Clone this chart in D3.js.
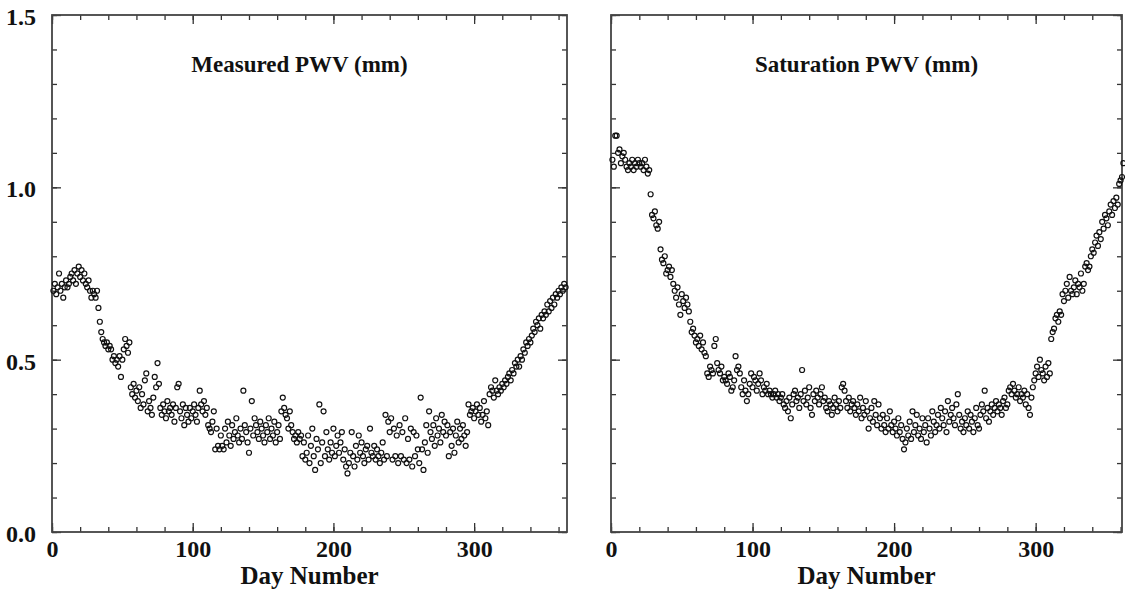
<!DOCTYPE html>
<html>
<head>
<meta charset="utf-8">
<script src="https://cdn.jsdelivr.net/npm/d3@7"></script>
<style>
  body { margin: 0; background: #fff; }
  svg text { font-family: "Liberation Serif", "Times New Roman", serif; font-weight: bold; fill: #111; }
</style>
</head>
<body>
<div id="chart"></div>
<script>
// Measured PWV (mm), one value per day starting at day 1
const measuredPWV = [
  0.70, 0.72, 0.69, 0.71, 0.75, 0.70, 0.72, 0.68, 0.71, 0.73,
  0.71, 0.72, 0.74, 0.75, 0.73, 0.76, 0.72, 0.75, 0.77, 0.74,
  0.76, 0.73, 0.75, 0.72, 0.71, 0.73, 0.70, 0.68, 0.70, 0.69,
  0.68, 0.70, 0.65, 0.61, 0.58, 0.56, 0.55, 0.54, 0.55, 0.53,
  0.54, 0.53, 0.50, 0.51, 0.49, 0.50, 0.48, 0.51, 0.45, 0.50,
  0.53, 0.56, 0.54, 0.52, 0.55, 0.42, 0.40, 0.43, 0.39, 0.41,
  0.38, 0.42, 0.36, 0.40, 0.37, 0.44, 0.46, 0.35, 0.38, 0.36,
  0.34, 0.39, 0.45, 0.42, 0.49, 0.43, 0.36, 0.34, 0.37, 0.35,
  0.33, 0.38, 0.35, 0.36, 0.34, 0.37, 0.32, 0.36, 0.42, 0.43,
  0.35, 0.33, 0.37, 0.31, 0.36, 0.34, 0.32, 0.36, 0.33, 0.35,
  0.37, 0.34, 0.32, 0.36, 0.41, 0.37, 0.35, 0.38, 0.34, 0.36,
  0.31, 0.30, 0.29, 0.32, 0.35, 0.24, 0.30, 0.25, 0.24, 0.28,
  0.25, 0.24, 0.30, 0.26, 0.32, 0.28, 0.25, 0.31, 0.27, 0.29,
  0.33, 0.28, 0.26, 0.30, 0.27, 0.41, 0.31, 0.29, 0.26, 0.23,
  0.30, 0.38, 0.28, 0.33, 0.31, 0.29, 0.27, 0.32, 0.30, 0.28,
  0.26, 0.31, 0.29, 0.33, 0.27, 0.30, 0.28, 0.32, 0.26, 0.29,
  0.31, 0.27, 0.35, 0.39, 0.36, 0.34, 0.33, 0.30, 0.35, 0.31,
  0.29, 0.27, 0.28, 0.26, 0.29, 0.27, 0.28, 0.22, 0.26, 0.21,
  0.23, 0.28, 0.20, 0.25, 0.30, 0.22, 0.18, 0.27, 0.24, 0.37,
  0.20, 0.26, 0.35, 0.22, 0.29, 0.24, 0.21, 0.26, 0.23, 0.30,
  0.22, 0.25, 0.28, 0.23, 0.26, 0.29, 0.21, 0.24, 0.19, 0.17,
  0.20, 0.23, 0.29, 0.22, 0.19, 0.25, 0.21, 0.28, 0.23, 0.26,
  0.22, 0.20, 0.24, 0.25, 0.21, 0.30, 0.23, 0.22, 0.25, 0.21,
  0.24, 0.22, 0.20, 0.23, 0.26, 0.21, 0.34, 0.22, 0.32, 0.29,
  0.33, 0.21, 0.30, 0.22, 0.28, 0.20, 0.31, 0.22, 0.29, 0.21,
  0.33, 0.20, 0.27, 0.21, 0.30, 0.19, 0.29, 0.22, 0.28, 0.24,
  0.20, 0.39, 0.24, 0.18, 0.26, 0.31, 0.23, 0.35, 0.29, 0.27,
  0.31, 0.25, 0.33, 0.28, 0.30, 0.26, 0.34, 0.29, 0.32, 0.28,
  0.31, 0.22, 0.29, 0.25, 0.30, 0.23, 0.28, 0.32, 0.26, 0.30,
  0.27, 0.31, 0.28, 0.25, 0.29, 0.37, 0.34, 0.35, 0.36, 0.33,
  0.35, 0.37, 0.34, 0.36, 0.32, 0.34, 0.38, 0.33, 0.35, 0.31,
  0.40, 0.42, 0.41, 0.39, 0.44, 0.41, 0.40, 0.42, 0.41, 0.43,
  0.42, 0.44, 0.43, 0.45, 0.46, 0.44, 0.47, 0.46, 0.49, 0.48,
  0.50, 0.48, 0.51, 0.50, 0.53, 0.52, 0.55, 0.54, 0.56, 0.55,
  0.57, 0.59, 0.58, 0.61, 0.60, 0.62, 0.59, 0.63, 0.62, 0.64,
  0.63, 0.66, 0.64, 0.67, 0.65, 0.68, 0.66, 0.69, 0.68, 0.70,
  0.69, 0.71, 0.70, 0.72, 0.71
];

// Saturation PWV (mm), one value per day starting at day 1
const saturationPWV = [
  1.08, 1.06, 1.15, 1.15, 1.10, 1.11, 1.07, 1.09, 1.10, 1.08,
  1.06, 1.05, 1.07, 1.06, 1.08, 1.05, 1.07, 1.06, 1.08, 1.07,
  1.06, 1.07, 1.05, 1.08, 1.06, 1.04, 1.05, 0.98, 0.92, 0.91,
  0.93, 0.89, 0.88, 0.90, 0.82, 0.79, 0.78, 0.80, 0.75, 0.76,
  0.77, 0.74, 0.76, 0.72, 0.70, 0.68, 0.71, 0.66, 0.63, 0.69,
  0.67, 0.65, 0.68, 0.66, 0.64, 0.61, 0.58, 0.59, 0.57, 0.55,
  0.56, 0.54, 0.57, 0.53, 0.55, 0.52, 0.51, 0.46, 0.45, 0.48,
  0.47, 0.46, 0.54, 0.56, 0.49, 0.47, 0.46, 0.48, 0.44, 0.45,
  0.44, 0.43, 0.46, 0.45, 0.41, 0.42, 0.44, 0.51, 0.47, 0.48,
  0.46, 0.42, 0.40, 0.44, 0.41, 0.38, 0.40, 0.43, 0.46, 0.42,
  0.45, 0.44, 0.41, 0.43, 0.46, 0.44, 0.40, 0.42, 0.41, 0.43,
  0.40, 0.41, 0.40, 0.39, 0.40, 0.41, 0.39, 0.40, 0.38, 0.39,
  0.40, 0.37, 0.36, 0.38, 0.35, 0.39, 0.33, 0.37, 0.40, 0.41,
  0.38, 0.39, 0.36, 0.40, 0.47, 0.38, 0.41, 0.37, 0.39, 0.42,
  0.36, 0.34, 0.40, 0.38, 0.41, 0.39, 0.37, 0.40, 0.42, 0.38,
  0.39, 0.36, 0.35, 0.38, 0.37, 0.34, 0.36, 0.39, 0.37, 0.35,
  0.38, 0.36, 0.42, 0.43, 0.41, 0.38, 0.36, 0.39, 0.35, 0.37,
  0.38, 0.36, 0.34, 0.37, 0.35, 0.39, 0.33, 0.36, 0.34, 0.38,
  0.35, 0.30, 0.33, 0.36, 0.32, 0.38, 0.34, 0.31, 0.37, 0.33,
  0.30, 0.34, 0.31, 0.29, 0.33, 0.30, 0.35, 0.31, 0.29, 0.32,
  0.30, 0.28, 0.33, 0.29, 0.31, 0.27, 0.24, 0.26, 0.30, 0.28,
  0.32, 0.27, 0.35, 0.29, 0.31, 0.34, 0.28, 0.30, 0.27, 0.33,
  0.29, 0.31, 0.26, 0.33, 0.30, 0.28, 0.35, 0.32, 0.29, 0.31,
  0.34, 0.30, 0.36, 0.33, 0.31, 0.35, 0.29, 0.38, 0.32, 0.34,
  0.36, 0.33, 0.31, 0.37, 0.40, 0.34, 0.30, 0.32, 0.29, 0.33,
  0.31, 0.35, 0.30, 0.34, 0.32, 0.29, 0.33, 0.36, 0.31, 0.30,
  0.34, 0.37, 0.35, 0.41, 0.33, 0.36, 0.32, 0.35, 0.37, 0.34,
  0.36, 0.38, 0.35, 0.37, 0.36, 0.34, 0.38, 0.39, 0.36, 0.37,
  0.41, 0.42, 0.40, 0.43, 0.41, 0.39, 0.40, 0.42, 0.38, 0.40,
  0.39, 0.41, 0.37, 0.40, 0.36, 0.34, 0.39, 0.42, 0.44, 0.46,
  0.48, 0.45, 0.50, 0.47, 0.46, 0.44, 0.48, 0.45, 0.49, 0.46,
  0.56, 0.58, 0.59, 0.62, 0.63, 0.61, 0.64, 0.63, 0.69, 0.67,
  0.70, 0.72, 0.68, 0.74, 0.70, 0.69, 0.71, 0.73, 0.69, 0.72,
  0.71, 0.75, 0.70, 0.72, 0.77, 0.78, 0.76, 0.77, 0.80, 0.82,
  0.81, 0.84, 0.86, 0.83, 0.87, 0.85, 0.90, 0.88, 0.92, 0.91,
  0.89, 0.93, 0.95, 0.92, 0.96, 0.94, 0.97, 0.95, 1.01, 1.02,
  1.03, 1.07
];

const xMajorTicks = [0, 100, 200, 300];
const yMajorTicks = [0.0, 0.5, 1.0, 1.5];

const W = 1125, H = 596;
const plotTop = 15, plotBottom = 532;

const svg = d3.select("#chart").append("svg")
    .attr("width", W)
    .attr("height", H);

const y = d3.scaleLinear().domain([0, 1.5]).range([plotBottom, plotTop]);

const panels = [
    { title: "Measured PWV (mm)", data: measuredPWV, left: 52, right: 567, dmax: 366, yLabels: true },
    { title: "Saturation PWV (mm)", data: saturationPWV, left: 611, right: 1122, dmax: 361, yLabels: false }
];

panels.forEach((p, pi) => {
    const x = d3.scaleLinear().domain([0, p.dmax]).range([p.left, p.right]);
    const g = svg.append("g");
    const minorX = d3.range(0, p.dmax + 1, 20);
    const minorY = d3.range(0, 16).map(d => d / 10);

    // bottom axis - minor and major ticks pointing inward
    g.append("g").attr("transform", `translate(0,${plotBottom})`)
        .call(d3.axisBottom(x).tickValues(minorX).tickSize(-5).tickFormat(""))
        .call(a => a.select(".domain").remove());
    g.append("g").attr("transform", `translate(0,${plotBottom})`)
        .attr("class", "xmajor")
        .call(d3.axisBottom(x).tickValues(xMajorTicks).tickSize(-9).tickPadding(8).tickFormat(d3.format("d")))
        .call(a => a.select(".domain").remove());

    // top axis
    g.append("g").attr("transform", `translate(0,${plotTop})`)
        .call(d3.axisTop(x).tickValues(minorX).tickSize(-5).tickFormat(""))
        .call(a => a.select(".domain").remove());
    g.append("g").attr("transform", `translate(0,${plotTop})`)
        .call(d3.axisTop(x).tickValues(xMajorTicks).tickSize(-9).tickFormat(""))
        .call(a => a.select(".domain").remove());

    // left axis
    g.append("g").attr("transform", `translate(${p.left},0)`)
        .call(d3.axisLeft(y).tickValues(minorY).tickSize(-5).tickFormat(""))
        .call(a => a.select(".domain").remove());
    g.append("g").attr("transform", `translate(${p.left},0)`)
        .attr("class", "ymajor")
        .call(d3.axisLeft(y).tickValues(yMajorTicks).tickSize(-9).tickPadding(p.yLabels ? 16 : 0)
            .tickFormat(p.yLabels ? d3.format(".1f") : ""))
        .call(a => a.select(".domain").remove());

    // right axis
    g.append("g").attr("transform", `translate(${p.right},0)`)
        .call(d3.axisRight(y).tickValues(minorY).tickSize(-5).tickFormat(""))
        .call(a => a.select(".domain").remove());
    g.append("g").attr("transform", `translate(${p.right},0)`)
        .call(d3.axisRight(y).tickValues(yMajorTicks).tickSize(-9).tickFormat(""))
        .call(a => a.select(".domain").remove());

    g.selectAll(".tick line").attr("stroke", "#333").attr("stroke-width", 1.3);
    g.selectAll(".xmajor text").style("font-size", "24px").attr("dy", "0.71em");
    g.selectAll(".ymajor text").style("font-size", "24px").attr("dy", "0.4em");

    // frame
    g.append("rect")
        .attr("x", p.left).attr("y", plotTop)
        .attr("width", p.right - p.left).attr("height", plotBottom - plotTop)
        .attr("fill", "none")
        .attr("stroke", "#444")
        .attr("stroke-width", 1.8);

    // title
    g.append("text")
        .attr("x", (p.left + p.right) / 2 - (pi === 0 ? 10 : 0))
        .attr("y", 72)
        .attr("text-anchor", "middle")
        .style("font-size", "23px")
        .text(p.title);

    // x axis title
    g.append("text")
        .attr("x", (p.left + p.right) / 2)
        .attr("y", 584)
        .attr("text-anchor", "middle")
        .style("font-size", "25px")
        .text("Day Number");

    // points
    g.append("g")
        .selectAll("circle")
        .data(p.data)
        .join("circle")
        .attr("cx", (d, i) => x(i + 1))
        .attr("cy", d => y(d))
        .attr("r", 2.5)
        .attr("fill", "none")
        .attr("stroke", "#111")
        .attr("stroke-width", 1.2);
});
</script>
</body>
</html>
